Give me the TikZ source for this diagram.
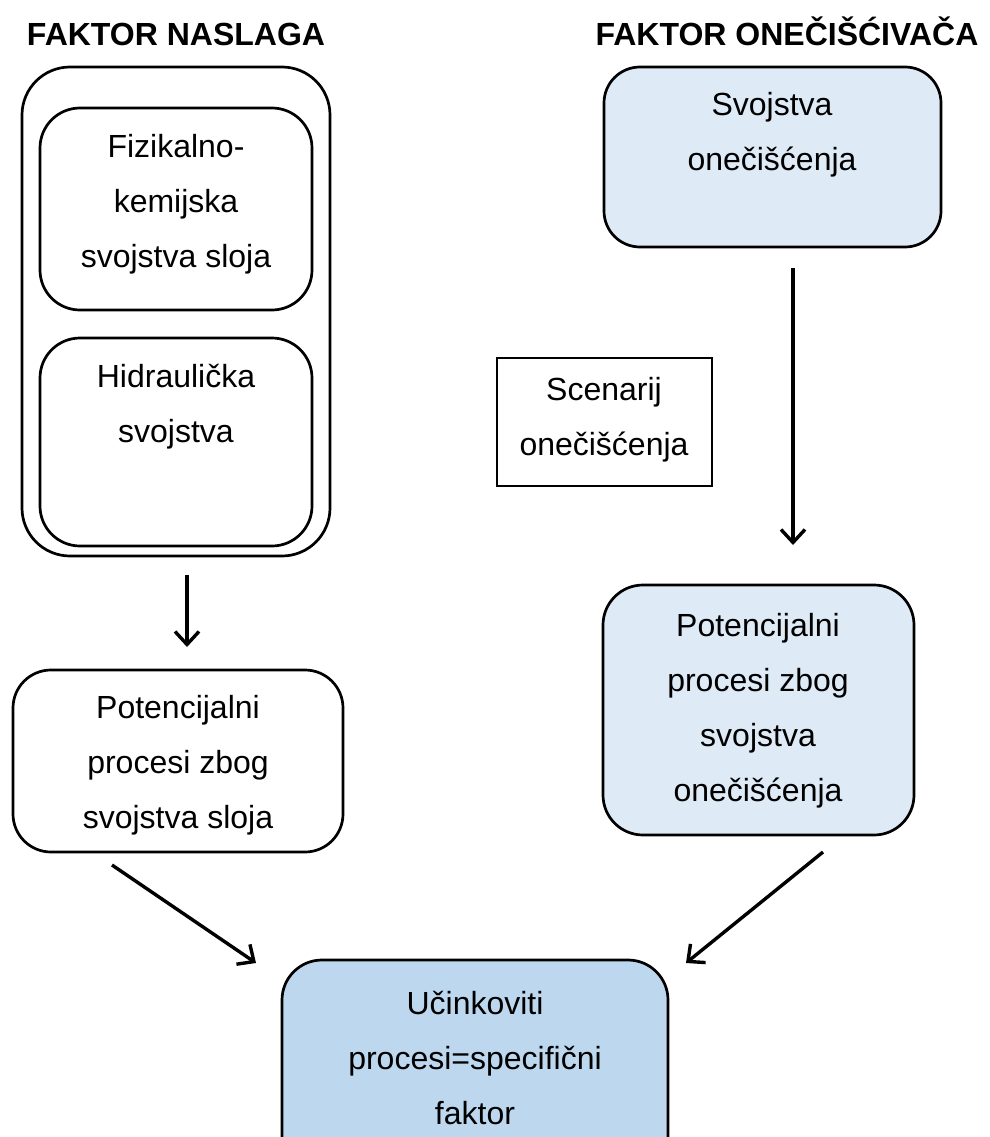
\documentclass[tikz,border=0pt]{standalone}
\usepackage{fontspec}
\setmainfont{Liberation Sans}
\usetikzlibrary{arrows.meta}
\definecolor{lightblue}{RGB}{222,234,246}
\definecolor{midblue}{RGB}{189,215,238}
\tikzset{
  boxline/.style={draw=black, line width=2.7pt},
  rbox/.style={boxline, rounded corners=#1, inner sep=0pt},
  rbox/.default=36pt,
  txt/.style={align=center, inner sep=0pt, font=\fontsize{32}{55}\selectfont},
  ttl/.style={inner sep=0pt, font=\fontsize{32}{37}\selectfont\bfseries, anchor=base},
  arr/.style={line width=3.4pt, -{Straight Barb[length=13pt,width=24pt]}}
}
\newcommand{\boxat}[6]{% name, x1,y1,x2,y2, style
  \node[#6, minimum width={(#4-#2)*1pt}, minimum height={(#5-#3)*1pt}] (#1) at ({(#2+#4)/2},{(#3+#5)/2}) {};}
\begin{document}
\begin{tikzpicture}[x=1pt,y=-1pt]
\useasboundingbox (0,0) rectangle (989,1137);
\clip (0,0) rectangle (989,1137);
% titles
\node[ttl] (t1) at (176,46) {FAKTOR NASLAGA};
\node[ttl] (t2) at (787,46) {FAKTOR ONEČIŠĆIVAČA};
% left column
\boxat{outer}{22}{67}{330}{556}{rbox=48pt}
\boxat{fiz}{40}{108}{312}{310}{rbox=40pt}
\boxat{hid}{40}{338}{312}{546}{rbox=40pt}
\boxat{potl}{13}{670}{343}{852}{rbox=38pt}
% right column
\boxat{svo}{604}{67}{941}{247}{rbox=36pt, fill=lightblue}
\boxat{scen}{497}{358}{712}{486}{boxline, inner sep=0pt}
\boxat{potr}{603}{585}{914}{835}{rbox=40pt, fill=lightblue}
\boxat{uci}{282}{960}{668}{1175}{rbox=40pt, fill=midblue}
% texts
\node[txt] (fiz-t) at (176,204) {Fizikalno-\\kemijska\\svojstva sloja};
\node[txt] (hid-t) at (176,407) {Hidraulička\\svojstva};
\node[txt] (potl-t) at (178,765) {Potencijalni\\procesi zbog\\svojstva sloja};
\node[txt] (svo-t) at (772,135) {Svojstva\\onečišćenja};
\node[txt] (scen-t) at (604,420) {Scenarij\\onečišćenja};
\node[txt] (potr-t) at (758,711) {Potencijalni\\procesi zbog\\svojstva\\onečišćenja};
\node[txt] (uci-t) at (475,1058) {Učinkoviti\\procesi=specifični\\faktor};
% arrow anchors
\coordinate (a1s) at (187,575);
\coordinate (a1e) at (187,647);
\coordinate (a2s) at (793,268);
\coordinate (a2e) at (793,545);
\coordinate (a3s) at (112,865);
\coordinate (a3e) at (256,963);
\coordinate (a4s) at (823,852);
\coordinate (a4e) at (686,963);
\draw[arr] (a1s) -- (a1e);
\draw[arr] (a2s) -- (a2e);
\draw[arr] (a3s) -- (a3e);
\draw[arr] (a4s) -- (a4e);
\end{tikzpicture}
\end{document}
